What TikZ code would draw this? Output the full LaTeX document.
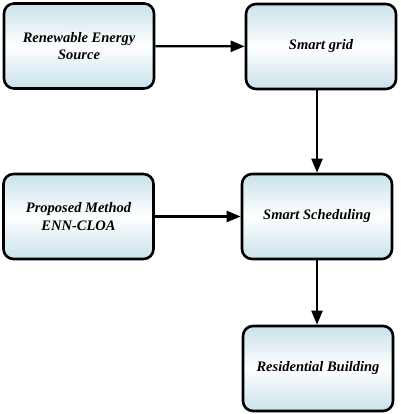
\documentclass[tikz,border=0pt]{standalone}
\usepackage{fontspec}
\setmainfont{Liberation Serif}
\usetikzlibrary{arrows.meta}
\begin{document}
\begin{tikzpicture}[x=1pt,y=1pt,
  blk/.style={draw=black, line width=2.6pt, rounded corners=10pt,
    top color=boxblue, bottom color=boxblue, middle color=white,
    minimum width=150pt, minimum height=85pt, align=center,
    font=\fontsize{14.5}{17.5}\selectfont\bfseries\itshape},
  conn/.style={line width=2.2pt, -{Triangle[length=14pt,width=11pt]}}]
\definecolor{boxblue}{HTML}{C9E2EC}
\useasboundingbox (0,0) rectangle (400,414);
\node[blk] (res) at (79,368) {Renewable Energy\\Source};
\node[blk] (grid) at (321,367.5) {Smart grid};
\node[blk] (prop) at (78.5,197.5) {Proposed Method\\ENN-CLOA};
\node[blk] (sched) at (317,197.5) {Smart Scheduling};
\node[blk] (build) at (318,45.5) {Residential Building};
\draw[conn] (res) -- (grid);
\draw[conn] (grid.south -| sched) -- (sched);
\draw[conn] (prop) -- (sched);
\draw[conn] (sched) -- (build.north -| sched);
\end{tikzpicture}
\end{document}
